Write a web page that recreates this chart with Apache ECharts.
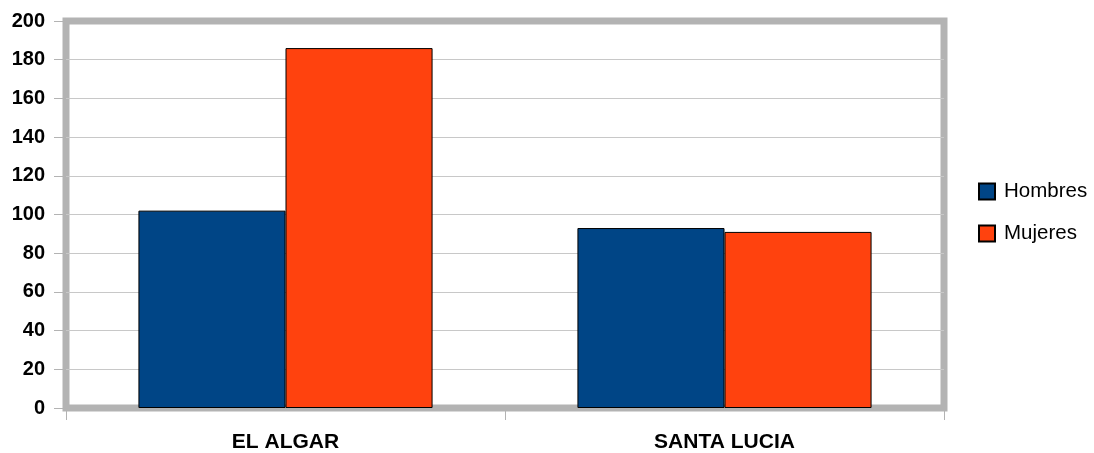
<!DOCTYPE html>
<html><head><meta charset="utf-8">
<script src="https://cdn.jsdelivr.net/npm/echarts@6/dist/echarts.min.js"></script>
<style>html,body{margin:0;padding:0;background:#fff}#c{width:1094px;height:453px}</style>
</head><body><div id="c"></div>
<script>
const categories = ['EL ALGAR', 'SANTA LUCIA'];
const hombres = [102, 93];
const mujeres = [186, 91];
const seriesNames = ['Hombres', 'Mujeres'];
const yMin = 0, yMax = 200, yStep = 20;

const chart = echarts.init(document.getElementById('c'), null, {renderer: 'canvas'});
const font = '"Liberation Sans", Arial, sans-serif';
chart.setOption({
  animation: false,
  backgroundColor: '#ffffff',
  grid: {left: 66, right: 150, top: 21, bottom: 44, show: true, borderColor: '#b3b3b3', borderWidth: 7, backgroundColor: 'transparent'},
  legend: {
    orient: 'vertical', left: 978, top: 181, padding: 0, itemWidth: 16, itemHeight: 16, itemGap: 21,
    icon: 'rect', data: seriesNames,
    textStyle: {fontFamily: font, fontSize: 20.5, color: '#000', padding: [0, 0, 0, 4]}
  },
  xAxis: {
    type: 'category', data: categories,
    axisLine: {show: false},
    axisTick: {show: true, length: 12, lineStyle: {color: '#b3b3b3'}},
    axisLabel: {margin: 24, fontFamily: font, fontWeight: 'bold', fontSize: 21, color: '#000'}
  },
  yAxis: {
    type: 'value', min: yMin, max: yMax, interval: yStep,
    axisLine: {show: false},
    axisTick: {show: true, length: 12, lineStyle: {color: '#b3b3b3'}},
    splitLine: {show: true, showMinLine: false, showMaxLine: false, lineStyle: {color: '#c8c8c8', width: 1}},
    axisLabel: {margin: 21, fontFamily: font, fontWeight: 'bold', fontSize: 20, color: '#000'}
  },
  series: [
    {name: seriesNames[0], type: 'bar', data: hombres, barGap: '0%', barCategoryGap: '33%',
     itemStyle: {color: '#004586', borderColor: '#000', borderWidth: 1}},
    {name: seriesNames[1], type: 'bar', data: mujeres, barGap: '0%', barCategoryGap: '33%',
     itemStyle: {color: '#ff420e', borderColor: '#000', borderWidth: 1}}
  ]
});
</script></body></html>
